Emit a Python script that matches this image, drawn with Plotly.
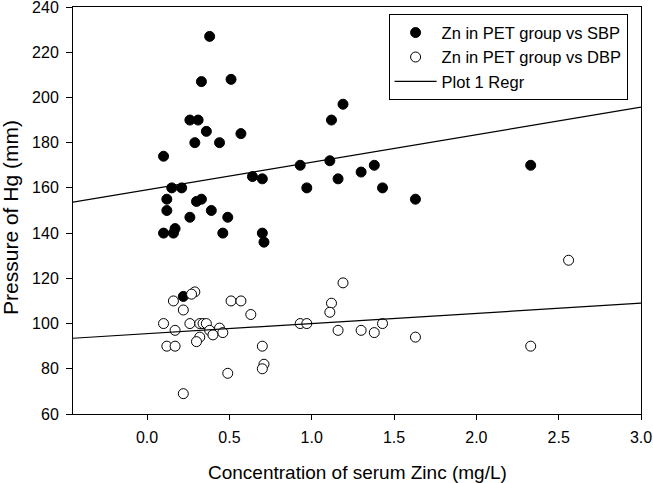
import plotly.graph_objects as go

# Zn vs SBP (filled circles)
sbp_x = [0.38, 0.33, 0.51, 0.26, 0.31, 0.36, 0.57, 0.29, 0.44, 0.10,
         0.64, 0.70, 0.15, 0.21, 0.12, 0.30, 0.33, 0.39, 0.12, 0.26,
         0.49, 0.10, 0.16, 0.17, 0.46, 0.70, 0.71, 0.22, 1.19, 1.12,
         0.93, 1.11, 0.97, 1.16, 1.30, 1.38, 1.43, 1.63, 2.33]
sbp_y = [227, 207, 208, 190, 190, 185, 184, 180, 180, 174,
         165, 164, 160, 160, 155, 154, 155, 150, 150, 147,
         147, 140, 140, 142, 140, 140, 136, 112, 197, 190,
         170, 172, 160, 164, 167, 170, 160, 155, 170]

# Zn vs DBP (open circles)
dbp_x = [0.29, 0.27, 0.16, 0.51, 0.57, 0.22, 0.63, 0.10, 0.26, 0.32,
         0.34, 0.36, 0.17, 0.38, 0.44, 0.46, 0.40, 0.32, 0.30, 0.12,
         0.17, 0.49, 0.22, 0.70, 0.71, 0.70, 1.19, 1.12, 1.11, 0.93,
         0.97, 1.16, 1.30, 1.38, 1.43, 1.63, 2.56, 2.33]
dbp_y = [114, 113, 110, 110, 110, 106, 104, 100, 100, 100,
         100, 100, 97, 97, 98, 96, 95, 94, 92, 90,
         90, 78, 69, 90, 82, 80, 118, 109, 105, 100,
         100, 97, 97, 96, 100, 94, 128, 90]

# Regression line end points
regr_x = [-0.45, 3.0]
sbp_fit = [153.7, 195.7]
dbp_fit = [93.5, 109.0]

x_ticks = [0.0, 0.5, 1.0, 1.5, 2.0, 2.5, 3.0]
y_ticks = [60, 80, 100, 120, 140, 160, 180, 200, 220, 240]

FONT = "Liberation Sans, Arial, sans-serif"

fig = go.Figure()
fig.add_trace(go.Scatter(
    x=sbp_x, y=sbp_y, mode="markers", name="Zn in PET group vs SBP",
    marker=dict(symbol="circle", size=10, color="black",
                line=dict(color="black", width=1))))
fig.add_trace(go.Scatter(
    x=dbp_x, y=dbp_y, mode="markers", name="Zn in PET group vs DBP",
    marker=dict(symbol="circle", size=10, color="white",
                line=dict(color="black", width=1))))
fig.add_trace(go.Scatter(
    x=regr_x + [None] + regr_x, y=sbp_fit + [None] + dbp_fit,
    mode="lines", name="Plot 1 Regr",
    line=dict(color="black", width=1.2)))

fig.update_layout(
    width=653, height=483,
    margin=dict(l=73, r=12, t=7, b=69, autoexpand=False),
    paper_bgcolor="white", plot_bgcolor="white",
    font=dict(family=FONT, size=16, color="black"),
    showlegend=True,
    legend=dict(x=0.5556, y=0.982, xanchor="left", yanchor="top",
                bordercolor="black", borderwidth=1, bgcolor="white",
                font=dict(family=FONT, size=16.5, color="black"),
                itemwidth=42, tracegroupgap=0),
    xaxis=dict(range=[-0.45, 3.0], tickvals=x_ticks, tickformat=".1f",
               showline=True, linecolor="black", linewidth=1, mirror=True,
               ticks="outside", ticklen=5, tickcolor="black",
               ticklabeloverflow="allow", ticklabelstandoff=4,
               tickfont=dict(family=FONT, size=16), automargin=False,
               showgrid=False, zeroline=False),
    yaxis=dict(range=[60, 240], tickvals=y_ticks,
               showline=True, linecolor="black", linewidth=1, mirror=True,
               ticks="outside", ticklen=6, tickcolor="black",
               ticklabeloverflow="allow", ticklabelstandoff=4,
               tickfont=dict(family=FONT, size=16), automargin=False,
               showgrid=False, zeroline=False),
    annotations=[
        dict(text="Concentration of serum Zinc (mg/L)", xref="paper", yref="paper",
             x=0.5, y=-0.143, xanchor="center", yanchor="middle", showarrow=False,
             font=dict(family=FONT, size=19, color="black")),
        dict(text="Pressure of Hg (mm)", xref="paper", yref="paper",
             x=-0.111, y=0.484, xanchor="center", yanchor="middle", showarrow=False,
             textangle=-90, font=dict(family=FONT, size=21, color="black")),
    ],
)

fig.write_html(
    "out.html",
    config={"displayModeBar": False},
    post_script="document.body.style.margin='0';document.body.style.padding='0';",
)
